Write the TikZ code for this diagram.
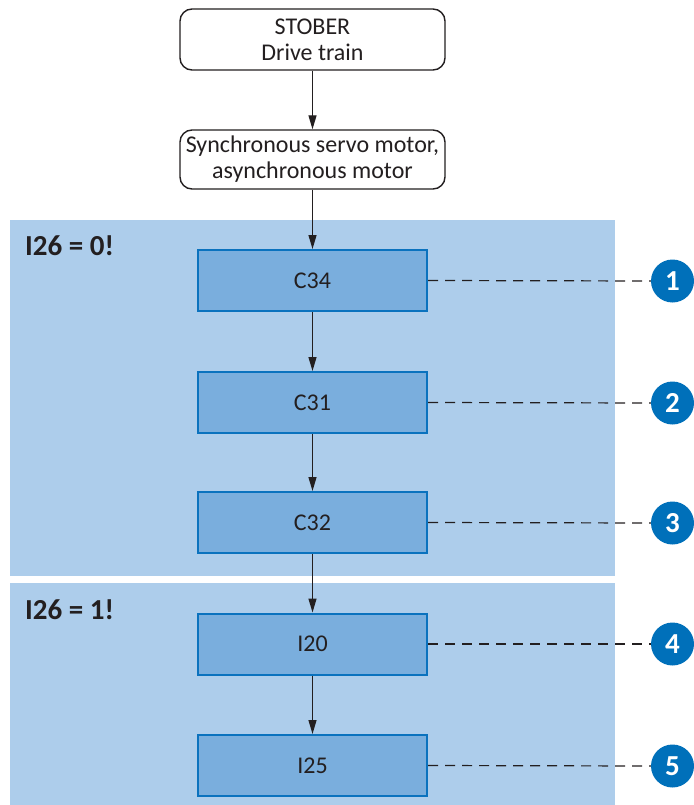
\documentclass[tikz,border=0pt]{standalone}
\usepackage{fontspec}
\setmainfont{Carlito}
\usetikzlibrary{arrows.meta}
\definecolor{panelblue}{HTML}{ADCDEB}
\definecolor{boxblue}{HTML}{7AAEDD}
\definecolor{edgeblue}{HTML}{0A72BE}
\definecolor{circblue}{HTML}{0070BA}
\definecolor{ink}{HTML}{231F20}
\tikzset{
  topbox/.style={draw=ink, line width=1.4pt, fill=white, rounded corners=12pt, minimum width=265pt, align=center, font=\fontsize{24}{26}\selectfont, text=ink, inner sep=0pt},
  paramx/.style={draw=edgeblue, line width=2pt, fill=boxblue, minimum width=229pt, minimum height=61pt, font=\fontsize{24}{26}\selectfont, text=ink, inner sep=0pt},
  panel/.style={fill=panelblue, draw=none},
  numcirc/.style={circle, fill=circblue, minimum size=43pt, inner sep=0pt, text=white, font=\bfseries\fontsize{29}{30}\selectfont},
  flow/.style={draw=ink, line width=1.3pt, -{Triangle[length=14pt,width=8pt]}},
  leader/.style={draw=ink, line width=1.2pt, dash pattern=on 10pt off 7pt},
  panellabel/.style={anchor=west, font=\bfseries\fontsize{29}{30}\selectfont, text=ink, inner sep=0pt}
}
\begin{document}
\begin{tikzpicture}[x=1pt,y=-1pt]
\useasboundingbox (0,0) rectangle (693,805);
\fill[panel] (10,220) rectangle (615,576);
\fill[panel] (10,583) rectangle (615,805);
\node[panellabel] (l0) at (25,246) {I26 = 0!};
\node[panellabel] (l1) at (25,610) {I26 = 1!};
\node[topbox, minimum height=61pt] (top) at (312.5,39.5) {STOBER\\Drive train};
\node[topbox, minimum height=59pt] (motor) at (312.5,159.5) {Synchronous servo motor,\\asynchronous motor};
\node[paramx] (c34) at (312.5,280.5) {C34};
\node[paramx] (c31) at (312.5,402.5) {C31};
\node[paramx] (c32) at (312.5,522.5) {C32};
\node[paramx] (i20) at (312.5,644) {I20};
\node[paramx] (i25) at (312.5,765.5) {I25};
\node[numcirc] (n1) at (672.5,281) {1};
\node[numcirc] (n2) at (672.5,403) {2};
\node[numcirc] (n3) at (672.5,523) {3};
\node[numcirc] (n4) at (672.5,644) {4};
\node[numcirc] (n5) at (672.5,766) {5};
\draw[flow] (top) -- (motor);
\draw[flow] (motor) -- (c34);
\draw[flow] (c34) -- (c31);
\draw[flow] (c31) -- (c32);
\draw[flow] (c32) -- (i20);
\draw[flow] (i20) -- (i25);
\draw[leader] (c34.east) -- (n1.west);
\draw[leader] (c31.east) -- (n2.west);
\draw[leader] (c32.east) -- (n3.west);
\draw[leader] (i20.east) -- (n4.west);
\draw[leader] (i25.east) -- (n5.west);
\end{tikzpicture}
\end{document}
